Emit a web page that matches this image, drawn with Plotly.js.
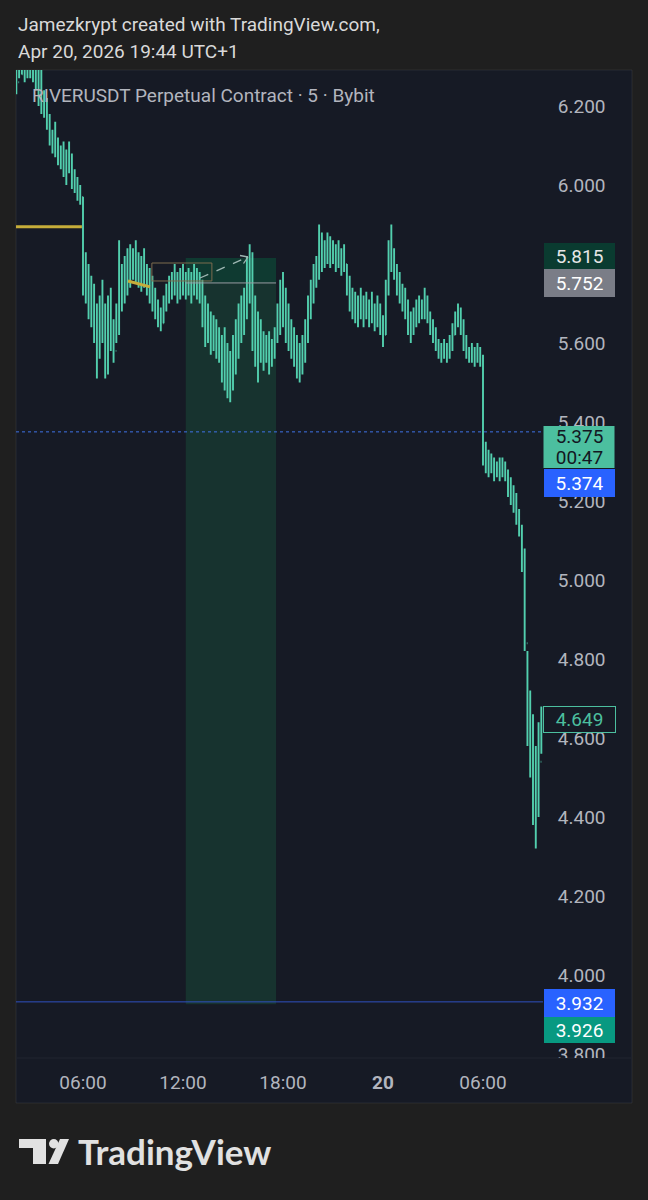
<!DOCTYPE html>
<html><head><meta charset="utf-8">
<script src="https://cdn.plot.ly/plotly-3.0.1.min.js"></script>
<style>html,body{margin:0;padding:0;background:#1f1f1f;overflow:hidden}#chart{width:648px;height:1200px;}</style>
</head><body><div id="chart"></div>
<script>
// ---- data (10-minute OHLC) ----
const firstCandleUTC = Date.UTC(2026, 3, 19, 2, 0);
const stepMinutes = 10;
const firstOpen = 6.28;
const high = [
6.31,6.31,6.31,6.31,6.31,6.31,6.31,6.31,
6.31,6.30,6.24,6.22,6.18,6.14,6.16,6.12,
6.10,6.11,6.09,6.11,6.08,6.04,6.02,6.00,
5.97,5.83,5.80,5.77,5.75,5.70,5.72,5.76,
5.70,5.72,5.74,5.66,5.70,5.86,5.80,5.82,
5.84,5.85,5.84,5.86,5.83,5.82,5.84,5.80,
5.79,5.77,5.74,5.71,5.69,5.72,5.75,5.77,
5.78,5.80,5.78,5.79,5.80,5.78,5.79,5.78,
5.80,5.79,5.78,5.76,5.72,5.70,5.68,5.67,
5.66,5.64,5.62,5.64,5.60,5.58,5.62,5.66,
5.70,5.72,5.74,5.82,5.85,5.83,5.72,5.68,
5.66,5.63,5.62,5.63,5.61,5.64,5.70,5.76,
5.78,5.74,5.70,5.66,5.64,5.62,5.60,5.62,
5.66,5.72,5.76,5.80,5.82,5.90,5.88,5.86,
5.88,5.87,5.86,5.85,5.86,5.84,5.85,5.80,
5.77,5.74,5.73,5.72,5.74,5.72,5.73,5.71,
5.73,5.70,5.72,5.70,5.67,5.76,5.86,5.90,
5.84,5.80,5.78,5.75,5.74,5.71,5.68,5.69,
5.71,5.72,5.71,5.74,5.72,5.68,5.66,5.64,
5.61,5.60,5.61,5.60,5.62,5.65,5.68,5.70,
5.69,5.66,5.62,5.59,5.60,5.59,5.60,5.59,
5.57,5.35,5.33,5.32,5.31,5.30,5.31,5.31,
5.30,5.28,5.26,5.24,5.22,5.18,5.14,5.08,
4.82,4.72,4.66,4.58,4.64,4.68];
const low = [
6.23,6.27,6.28,6.26,6.27,6.27,6.26,6.24,
6.20,6.18,6.17,6.14,6.10,6.08,6.07,6.05,
6.04,6.02,6.00,6.03,5.99,5.98,5.96,5.95,
5.72,5.70,5.66,5.64,5.60,5.51,5.56,5.60,
5.51,5.52,5.58,5.55,5.60,5.62,5.68,5.70,
5.72,5.74,5.76,5.75,5.74,5.73,5.74,5.72,
5.70,5.68,5.66,5.64,5.63,5.65,5.68,5.70,
5.71,5.72,5.70,5.71,5.72,5.71,5.72,5.70,
5.72,5.71,5.70,5.64,5.59,5.60,5.57,5.58,
5.56,5.55,5.50,5.48,5.46,5.45,5.48,5.52,
5.56,5.60,5.62,5.66,5.70,5.58,5.54,5.50,
5.55,5.53,5.55,5.52,5.54,5.56,5.60,5.62,
5.64,5.60,5.58,5.56,5.54,5.51,5.50,5.52,
5.55,5.60,5.66,5.70,5.74,5.76,5.78,5.79,
5.80,5.79,5.80,5.78,5.79,5.77,5.78,5.72,
5.68,5.66,5.65,5.64,5.66,5.64,5.66,5.64,
5.65,5.63,5.64,5.62,5.59,5.62,5.72,5.78,
5.76,5.72,5.70,5.68,5.66,5.62,5.60,5.62,
5.64,5.65,5.66,5.66,5.65,5.62,5.60,5.58,
5.56,5.55,5.56,5.55,5.56,5.58,5.62,5.64,
5.62,5.58,5.56,5.55,5.55,5.54,5.55,5.54,
5.29,5.27,5.26,5.27,5.25,5.26,5.25,5.26,
5.25,5.21,5.19,5.17,5.14,5.11,5.02,4.82,
4.58,4.50,4.38,4.32,4.40,4.56];
const close = [
6.26,6.29,6.28,6.28,6.29,6.28,6.27,6.28,
6.22,6.20,6.19,6.16,6.12,6.10,6.09,6.07,
6.06,6.05,6.04,6.05,6.01,6.00,5.98,5.97,
5.76,5.74,5.70,5.68,5.63,5.58,5.66,5.62,
5.55,5.66,5.60,5.58,5.66,5.75,5.73,5.78,
5.80,5.79,5.81,5.78,5.79,5.76,5.78,5.75,
5.73,5.71,5.68,5.66,5.65,5.70,5.72,5.74,
5.75,5.74,5.76,5.74,5.77,5.74,5.76,5.73,
5.76,5.74,5.72,5.66,5.62,5.64,5.60,5.62,
5.58,5.57,5.53,5.51,5.49,5.54,5.58,5.62,
5.64,5.66,5.70,5.78,5.80,5.62,5.58,5.60,
5.58,5.56,5.59,5.56,5.58,5.62,5.66,5.72,
5.70,5.64,5.62,5.60,5.58,5.54,5.55,5.58,
5.62,5.68,5.72,5.76,5.79,5.84,5.82,5.83,
5.84,5.82,5.83,5.81,5.82,5.80,5.80,5.74,
5.70,5.69,5.68,5.70,5.69,5.68,5.69,5.67,
5.68,5.66,5.67,5.64,5.62,5.74,5.82,5.82,
5.79,5.76,5.73,5.71,5.69,5.65,5.64,5.67,
5.68,5.69,5.68,5.70,5.67,5.64,5.62,5.60,
5.58,5.57,5.58,5.57,5.60,5.62,5.66,5.66,
5.64,5.60,5.57,5.57,5.56,5.57,5.56,5.56,
5.32,5.30,5.28,5.29,5.27,5.29,5.27,5.28,
5.26,5.23,5.21,5.19,5.16,5.13,5.06,4.84,
4.62,4.58,4.44,4.42,4.54,4.649];
const timeTickVals = ['2026-04-19 06:00','2026-04-19 12:00','2026-04-19 18:00','2026-04-20 00:00','2026-04-20 06:00'];
const timeTickText = ['06:00','12:00','18:00','<b>20</b>','06:00'];
const priceTickVals = [3.8,4.0,4.2,4.4,4.6,4.8,5.0,5.2,5.4,5.6,5.8,6.0,6.2];

// levels / drawing tools
const targetPrice = 5.815, entryPrice = 5.752, stopPrice = 3.926;
const alertPrice = 3.932, markPrice = 5.375, bidPrice = 5.374, lastPrice = 4.649;
const countdown = '00:47';
const positionStart = '2026-04-19 12:10', positionEnd = '2026-04-19 17:35';
const yellowLevel = 5.894;

// ---- build ----
const times = close.map((_, i) => new Date(firstCandleUTC + i*stepMinutes*60000).toISOString().slice(0,19).replace('T',' '));
const open = [firstOpen].concat(close.slice(0, -1));

const L=16, R=543, T=70, B=1058;
const xp = px => (px-L)/(R-L);
const yp = py => (B-py)/(B-T);
const TEAL = '#52cfae';
const PANEL = '#161a25';
const AX = '#b2b5be';

const trace = {
  type:'ohlc', x:times, open:open, high:high, low:low, close:close,
  increasing:{line:{color:TEAL,width:1.9}}, decreasing:{line:{color:TEAL,width:1.9}},
  tickwidth:0.22, hoverinfo:'skip', showlegend:false
};

function pathP(pts){ return 'M' + pts.map(p => xp(p[0]) + ',' + yp(p[1])).join(' L') + ' Z'; }

const shapes = [
  {type:'rect', xref:'paper', yref:'paper', x0:xp(16), x1:xp(632), y0:yp(70), y1:yp(1103), fillcolor:PANEL, line:{color:'rgba(255,255,255,0.07)', width:1}, layer:'below'},
  // position tool zones
  {type:'rect', xref:'x', yref:'y', x0:positionStart, x1:positionEnd, y0:entryPrice, y1:targetPrice, fillcolor:'#0f3a31', line:{width:0}, layer:'below'},
  {type:'rect', xref:'x', yref:'y', x0:positionStart, x1:positionEnd, y0:stopPrice, y1:entryPrice, fillcolor:'#17332f', line:{width:0}, layer:'below'},
  {type:'line', xref:'x', yref:'y', x0:positionStart, x1:positionEnd, y0:entryPrice, y1:entryPrice, line:{color:'#9a9ca3', width:1}},
  // yellow lines
  {type:'line', xref:'x', yref:'y', x0:'2026-04-19 01:50', x1:'2026-04-19 05:56', y0:yellowLevel, y1:yellowLevel, line:{color:'#c6ad3a', width:3}},
  {type:'line', xref:'x', yref:'y', x0:'2026-04-19 08:42', x1:'2026-04-19 10:01', y0:5.757, y1:5.742, line:{color:'#c6ad3a', width:3}},
  // brown rectangle
  {type:'rect', xref:'x', yref:'y', x0:'2026-04-19 10:08', x1:'2026-04-19 13:44', y0:5.757, y1:5.8025, line:{color:'#7d6c4f', width:1}},
  // dashed arrow
  {type:'line', xref:'paper', yref:'paper', x0:xp(200), y0:yp(278), x1:xp(248), y1:yp(257), line:{color:'#9fb7b3', width:1.3, dash:'dash'}},
  {type:'line', xref:'paper', yref:'paper', x0:xp(240), y0:yp(255.5), x1:xp(248), y1:yp(257), line:{color:'#9fb7b3', width:1.3}},
  {type:'line', xref:'paper', yref:'paper', x0:xp(243.5), y0:yp(263.5), x1:xp(248), y1:yp(257), line:{color:'#9fb7b3', width:1.3}},
  // horizontal price lines
  {type:'line', xref:'paper', yref:'y', x0:0, x1:1, y0:markPrice, y1:markPrice, line:{color:'#3f73e6', width:1, dash:'dot'}},
  {type:'line', xref:'paper', yref:'y', x0:0, x1:1, y0:alertPrice, y1:alertPrice, line:{color:'#2f50c0', width:1}},
  // cover under price axis bottom
  {type:'rect', xref:'paper', yref:'paper', x0:1.0, x1:xp(631), y0:yp(1058), y1:yp(1102), fillcolor:PANEL, line:{width:0}, layer:'above'},
  {type:'line', xref:'paper', yref:'paper', x0:xp(17), x1:xp(631), y0:yp(1058), y1:yp(1058), line:{color:'rgba(255,255,255,0.05)', width:1}},
  // countdown label backing (joins the two halves of the last-price label)
  {type:'rect', xref:'paper', yref:'paper', x0:xp(543.5), x1:xp(614.5), y0:yp(426), y1:yp(468), fillcolor:'#4cbf9f', line:{width:0}, layer:'above'},
  // TradingView logo glyph
  {type:'path', xref:'paper', yref:'paper', path:pathP([[19,1139],[46,1139],[46,1164],[33,1164],[33,1148],[19,1148]]), fillcolor:'#e1e1e1', line:{width:0}},
  {type:'circle', xref:'paper', yref:'paper', x0:xp(49), x1:xp(58.5), y0:yp(1139), y1:yp(1148.5), fillcolor:'#e1e1e1', line:{width:0}},
  {type:'path', xref:'paper', yref:'paper', path:pathP([[60,1139],[69,1139],[58,1164],[48.5,1164]]), fillcolor:'#e1e1e1', line:{width:0}}
];

function label(cy, text, bg, color, h, border){
  return {xref:'paper', yref:'paper', x:xp(579), y:yp(cy), xanchor:'center', yanchor:'middle', showarrow:false,
    text:text, width:65, height:h, borderpad:3, bgcolor:bg, bordercolor:border||bg, borderwidth:border?1:0,
    font:{family:'Roboto', size:19, color:color}, align:'center'};
}

const annotations = [
  {xref:'paper', yref:'paper', x:xp(16), y:yp(25), xanchor:'left', yanchor:'middle', showarrow:false,
   text:'Jamezkrypt created with TradingView.com,', font:{family:'Roboto', size:19, color:'#d9d9d9'}},
  {xref:'paper', yref:'paper', x:xp(16), y:yp(52), xanchor:'left', yanchor:'middle', showarrow:false,
   text:'Apr 20, 2026 19:44 UTC+1', font:{family:'Roboto', size:19, color:'#d9d9d9'}},
  {xref:'paper', yref:'paper', x:xp(30), y:yp(96), xanchor:'left', yanchor:'middle', showarrow:false,
   text:'RIVERUSDT Perpetual Contract · 5 · Bybit', font:{family:'Roboto', size:19, color:'#b2b5be'}},
  label(256, targetPrice.toFixed(3), '#0a3b30', '#e6e6e6', 20),
  label(283, entryPrice.toFixed(3), '#7a7d87', '#ffffff', 22),
  label(436, markPrice.toFixed(3), 'rgba(0,0,0,0)', '#131722', 15),
  label(457, countdown, 'rgba(0,0,0,0)', '#131722', 15),
  label(483, bidPrice.toFixed(3), '#2962ff', '#ffffff', 22),
  label(719.5, lastPrice.toFixed(3), PANEL, '#4cbf9f', 19, '#4cbf9f'),
  label(1003, alertPrice.toFixed(3), '#2962ff', '#ffffff', 22),
  label(1030, stopPrice.toFixed(3), '#089981', '#ffffff', 20),
  {xref:'paper', yref:'paper', x:xp(76), y:yp(1151), xanchor:'left', yanchor:'middle', showarrow:false,
   text:'<b>TradingView</b>', font:{family:'Lato', size:35, color:'#e1e1e1'}}
];

const layout = {
  width:648, height:1200, paper_bgcolor:'#1f1f1f', plot_bgcolor:PANEL,
  margin:{l:L, r:648-R, t:T, b:1200-B}, showlegend:false, dragmode:false, hovermode:false,
  xaxis:{type:'date', range:['2026-04-19 01:58:48','2026-04-20 09:36'], tickvals:timeTickVals, ticktext:timeTickText,
    showgrid:false, zeroline:false, showline:false, ticks:'outside', ticklen:7, tickcolor:'rgba(0,0,0,0)',
    tickfont:{family:'Roboto', size:19, color:AX}, rangeslider:{visible:false}, fixedrange:true},
  yaxis:{side:'right', range:[3.7899, 6.2911], tickvals:priceTickVals, tickformat:'.3f',
    showgrid:false, zeroline:false, showline:false, ticks:'outside', ticklen:10, tickcolor:'rgba(0,0,0,0)',
    tickfont:{family:'Roboto', size:19, color:AX}, fixedrange:true},
  shapes:shapes, annotations:annotations
};

Plotly.newPlot('chart', [trace], layout, {staticPlot:true, displayModeBar:false});
</script></body></html>
